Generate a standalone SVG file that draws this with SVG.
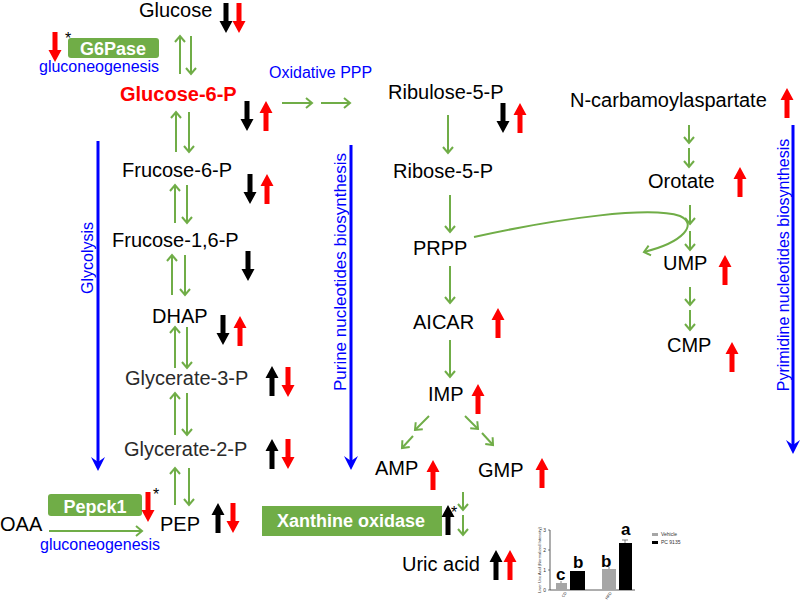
<svg xmlns="http://www.w3.org/2000/svg" width="800" height="603" viewBox="0 0 800 603">
<style>
text{font-family:"Liberation Sans",Arial,sans-serif}
.m{font-size:20px;fill:#000}
.g{font-size:20px;fill:#2a2a2a}
.blu{font-size:16px;fill:#0000ff}
.enz{font-size:18px;font-weight:bold;fill:#fff}
.box{fill:#70ad47}
.k{fill:#000}
.r{fill:#ff0000}
.gl{stroke:#70ad47;stroke-width:2;fill:none;marker-end:url(#ch)}
.bl{stroke:#0000ff;stroke-width:3;fill:none}
.bh{fill:#0000ff}
.ast{font-size:16px;fill:#000}
.tiny{font-size:5px;fill:#333}
</style>
<defs>
<marker id="ch" markerUnits="userSpaceOnUse" markerWidth="12" markerHeight="12" refX="7" refY="6" orient="auto">
<path d="M1,1 L7,6 L1,11" stroke="#70ad47" stroke-width="2" fill="none"/>
</marker>
<path id="au" d="M0,0 L6.5,12 L2.5,12 L2.5,30 L-2.5,30 L-2.5,12 L-6.5,12 Z"/>
<path id="ad" d="M0,30 L6.5,18 L2.5,18 L2.5,0 L-2.5,0 L-2.5,18 L-6.5,18 Z"/>
</defs>

<g id="connectors">
<line class="gl" x1="180" y1="74" x2="180" y2="36"/><line class="gl" x1="191" y1="36" x2="191" y2="74"/>
<line class="gl" x1="176" y1="152" x2="176" y2="112"/><line class="gl" x1="189" y1="112" x2="189" y2="152"/>
<line class="gl" x1="175" y1="223" x2="175" y2="185"/><line class="gl" x1="187" y1="185" x2="187" y2="223"/>
<line class="gl" x1="172" y1="295" x2="172" y2="255"/><line class="gl" x1="185" y1="255" x2="185" y2="295"/>
<line class="gl" x1="175" y1="368" x2="175" y2="327"/><line class="gl" x1="187" y1="327" x2="187" y2="368"/>
<line class="gl" x1="175" y1="435" x2="175" y2="393"/><line class="gl" x1="187" y1="393" x2="187" y2="435"/>
<line class="gl" x1="175" y1="505" x2="175" y2="468"/><line class="gl" x1="189" y1="468" x2="189" y2="505"/>
<line class="gl" x1="49" y1="531" x2="142" y2="531"/>
<line class="gl" x1="282" y1="103" x2="312" y2="103"/>
<line class="gl" x1="321" y1="103" x2="350" y2="103"/>
<line class="gl" x1="448" y1="115" x2="448" y2="153"/>
<line class="gl" x1="450" y1="195" x2="450" y2="232"/>
<line class="gl" x1="450" y1="266" x2="450" y2="303"/>
<line class="gl" x1="450" y1="340" x2="450" y2="377"/>
<line class="gl" x1="429" y1="416" x2="415" y2="430"/>
<line class="gl" x1="413" y1="436" x2="402" y2="448"/>
<line class="gl" x1="465" y1="416" x2="478" y2="429"/>
<line class="gl" x1="482" y1="433" x2="493" y2="445"/>
<line class="gl" x1="463" y1="492" x2="463" y2="510"/>
<line class="gl" x1="463" y1="515" x2="463" y2="535"/>
<line class="gl" x1="689" y1="125" x2="689" y2="143"/>
<line class="gl" x1="689" y1="148" x2="689" y2="167"/>
<line class="gl" x1="690" y1="205" x2="690" y2="224"/>
<line class="gl" x1="690" y1="231" x2="690" y2="250"/>
<line class="gl" x1="690" y1="287" x2="690" y2="305"/>
<line class="gl" x1="690" y1="310" x2="690" y2="330"/>
<path class="gl" d="M474,237 C560,218 650,206 680,216 C698,224 684,242 644,252"/>
<line class="bl" x1="98" y1="141" x2="98" y2="464"/>
<path class="bh" d="M98,471 L91,457 L98,462 L105,457 Z"/>
<line class="bl" x1="351" y1="145" x2="351" y2="463"/>
<path class="bh" d="M351,470 L344,456 L351,461 L358,456 Z"/>
<line class="bl" x1="793" y1="125" x2="793" y2="447"/>
<path class="bh" d="M793,454 L786,440 L793,445 L800,440 Z"/>
</g>

<g id="labels">
<text class="blu" transform="translate(93,258) rotate(-90)" text-anchor="middle">Glycolysis</text>
<text class="blu" style="font-size:17px" transform="translate(346,272) rotate(-90)" text-anchor="middle">Purine nucleotides biosynthesis</text>
<text class="blu" transform="translate(789,265) rotate(-90)" text-anchor="middle">Pyrimidine nucleotides biosynthesis</text>
<text class="blu" x="269" y="78">Oxidative PPP</text>
</g>

<g id="glucose"><text class="m" x="139" y="17">Glucose</text>
<use href="#ad" x="226" y="3" class="k"/><use href="#ad" x="239" y="3" class="r"/></g>

<g id="g6pase"><rect class="box" x="68" y="38" width="91" height="20" rx="3"/>
<text class="enz" x="113" y="55" text-anchor="middle">G6Pase</text>
<use href="#ad" x="55" y="32" class="r"/><text class="ast" x="65" y="44">*</text>
<text class="blu" x="39" y="72">gluconeogenesis</text></g>

<g id="g6p"><text x="120" y="101" style="font-size:20px;font-weight:bold;fill:#ff0000">Glucose-6-P</text>
<use href="#ad" x="247" y="101" class="k"/><use href="#au" x="266" y="101" class="r"/></g>

<g id="f6p"><text class="m" x="122" y="177">Frucose-6-P</text>
<use href="#ad" x="250" y="174" class="k"/><use href="#au" x="267" y="174" class="r"/></g>

<g id="f16p"><text class="m" x="112" y="247">Frucose-1,6-P</text>
<use href="#ad" x="248" y="251" class="k"/></g>

<g id="dhap"><text class="m" x="152" y="323">DHAP</text>
<use href="#ad" x="223" y="315" class="k"/><use href="#au" x="240" y="316" class="r"/></g>

<g id="g3p"><text class="g" x="125" y="385">Glycerate-3-P</text>
<use href="#au" x="272" y="366" class="k"/><use href="#ad" x="288" y="367" class="r"/></g>

<g id="g2p"><text class="g" x="124" y="456">Glycerate-2-P</text>
<use href="#au" x="272" y="439" class="k"/><use href="#ad" x="288" y="439" class="r"/></g>

<g id="pepck1"><rect class="box" x="48" y="494" width="94" height="22" rx="3"/>
<text class="enz" x="95" y="513" text-anchor="middle">Pepck1</text>
<use href="#ad" x="148" y="492" class="r"/><text class="ast" x="153" y="500">*</text>
<text class="blu" x="40" y="550">gluconeogenesis</text></g>

<g id="oaa"><text class="m" x="0" y="531">OAA</text></g>

<g id="pep"><text class="m" x="160" y="531">PEP</text>
<use href="#au" x="218" y="503" class="k"/><use href="#ad" x="233" y="503" class="r"/></g>

<g id="ribulose"><text class="m" x="388" y="99">Ribulose-5-P</text>
<use href="#ad" x="503" y="103" class="k"/><use href="#au" x="520" y="103" class="r"/></g>

<g id="ribose"><text class="m" x="393" y="178">Ribose-5-P</text></g>

<g id="prpp"><text class="m" x="413" y="255">PRPP</text></g>

<g id="aicar"><text class="m" x="413" y="329">AICAR</text>
<use href="#au" x="498" y="308" class="r"/></g>

<g id="imp"><text class="m" x="428" y="401">IMP</text>
<use href="#au" x="478" y="384" class="r"/></g>

<g id="amp"><text class="m" x="375" y="475">AMP</text>
<use href="#au" x="433" y="460" class="r"/></g>

<g id="gmp"><text class="m" x="478" y="477">GMP</text>
<use href="#au" x="542" y="458" class="r"/></g>

<g id="xo"><rect class="box" x="262" y="506" width="180" height="30"/>
<text class="enz" x="351" y="527" text-anchor="middle">Xanthine oxidase</text>
<use href="#au" x="448" y="505" class="k"/><text class="ast" x="451" y="518">*</text></g>

<g id="uric"><text class="m" x="402" y="571">Uric acid</text>
<use href="#au" x="496" y="550" class="k"/><use href="#au" x="510" y="550" class="r"/></g>

<g id="ncarb"><text class="m" x="570" y="107">N-carbamoylaspartate</text>
<use href="#au" x="787" y="88" class="r"/></g>

<g id="orotate"><text class="m" x="648" y="188">Orotate</text>
<use href="#au" x="740" y="167" class="r"/></g>

<g id="ump"><text class="m" x="663" y="270">UMP</text>
<use href="#au" x="725" y="255" class="r"/></g>

<g id="cmp"><text class="m" x="667" y="352">CMP</text>
<use href="#au" x="732" y="342" class="r"/></g>

<g id="chart">
<text class="tiny" style="font-size:4px" transform="translate(541,560) rotate(-90)" text-anchor="middle">Liver Uric Acid (Normalized Intensity)</text>
<line x1="550" y1="530" x2="550" y2="590" stroke="#333" stroke-width="0.8"/>
<line x1="550" y1="590" x2="635" y2="590" stroke="#333" stroke-width="0.8"/>
<g stroke="#333" stroke-width="0.6">
<line x1="548" y1="530" x2="550" y2="530"/><line x1="548" y1="550" x2="550" y2="550"/><line x1="548" y1="570" x2="550" y2="570"/><line x1="548" y1="590" x2="550" y2="590"/>
</g>
<text class="tiny" x="546" y="532" text-anchor="end">3</text>
<text class="tiny" x="546" y="552" text-anchor="end">2</text>
<text class="tiny" x="546" y="572" text-anchor="end">1</text>
<text class="tiny" x="546" y="592" text-anchor="end">0</text>
<rect x="556" y="583" width="11" height="7" fill="#a6a6a6"/>
<rect x="570" y="571" width="15" height="19" fill="#000"/>
<rect x="602" y="569" width="14" height="21" fill="#a6a6a6"/>
<rect x="619" y="543" width="13" height="47" fill="#000"/>
<g stroke="#666" stroke-width="0.8">
<line x1="561" y1="581" x2="561" y2="583"/><line x1="609" y1="567" x2="609" y2="569"/><line x1="625" y1="540" x2="625" y2="543"/>
<line x1="622" y1="540" x2="628" y2="540"/>
</g>
<text x="556" y="580" style="font-size:17px;font-weight:bold">c</text>
<text x="573" y="568" style="font-size:17px;font-weight:bold">b</text>
<text x="601" y="567" style="font-size:17px;font-weight:bold">b</text>
<text x="621" y="535" style="font-size:17px;font-weight:bold">a</text>
<text class="tiny" style="font-size:4px" transform="translate(567,593) rotate(-55)" text-anchor="end">CD</text>
<text class="tiny" style="font-size:4px" transform="translate(612,593) rotate(-55)" text-anchor="end">HFD</text>
<rect x="652" y="533" width="6" height="3" fill="#a6a6a6"/>
<text class="tiny" x="661" y="536">Vehicle</text>
<rect x="652" y="541" width="6" height="3" fill="#000"/>
<text class="tiny" x="661" y="544">PC 9135</text>
</g>
</svg>
